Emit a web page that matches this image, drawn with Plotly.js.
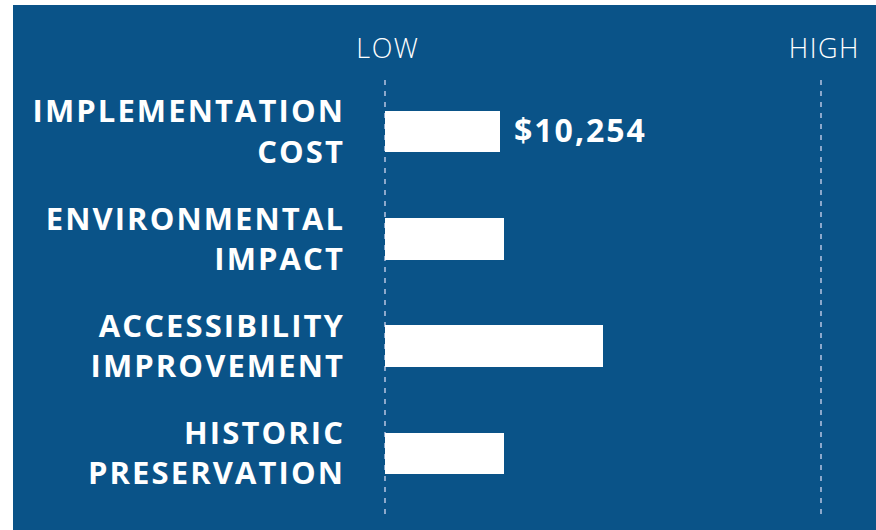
<!DOCTYPE html>
<html>
<head>
<meta charset="utf-8">
<script src="https://cdn.plot.ly/plotly-3.0.1.min.js"></script>
<style>
html, body { margin: 0; padding: 0; background: #ffffff; }
#chart { position: absolute; left: 13px; top: 5px; width: 863px; height: 525px; }
#chart .ytick text { letter-spacing: 2.1px; }
#chart .xtick text { letter-spacing: 1.5px; }
#chart .annotation-text { letter-spacing: 2px; }
</style>
</head>
<body>
<div id="chart"></div>
<script>
var categories = ["IMPLEMENTATION<br>COST", "ENVIRONMENTAL<br>IMPACT", "ACCESSIBILITY<br>IMPROVEMENT", "HISTORIC<br>PRESERVATION"];
var values = [0.264, 0.273, 0.5, 0.273];
var barLabels = ["$10,254", "", "", ""];
var scaleTickValues = [0, 1];
var scaleTickLabels = ["LOW", "HIGH"];

var BLUE = "#0a5388";

var trace = {
  type: "bar",
  orientation: "h",
  x: values,
  y: categories,
  width: 0.39,
  marker: { color: "#ffffff", line: { width: 0 } },
  hoverinfo: "skip"
};

var annotations = [];
for (var i = 0; i < values.length; i++) {
  if (barLabels[i]) {
    annotations.push({
      x: values[i], y: categories[i], xref: "x", yref: "y",
      text: barLabels[i], showarrow: false, xanchor: "left", yanchor: "middle",
      xshift: 19, yshift: 2,
      font: { family: "Open Sans, sans-serif", size: 32, color: "#ffffff", weight: 700 }
    });
  }
}

var layout = {
  width: 863,
  height: 525,
  paper_bgcolor: BLUE,
  plot_bgcolor: BLUE,
  margin: { l: 350.2, r: 11.4, t: 75, b: 10 },
  showlegend: false,
  bargap: 0,
  xaxis: {
    range: [-0.05, 1.1],
    side: "top",
    tickvals: scaleTickValues,
    ticktext: scaleTickLabels,
    ticks: "",
    showgrid: true,
    gridcolor: "#8ca8cb",
    gridwidth: 2,
    griddash: "5px,6px",
    zeroline: false,
    showline: false,
    fixedrange: true,
    ticklabelstandoff: 16,
    ticklabelshift: 3,
    tickfont: { family: "Open Sans, sans-serif", size: 27, color: "#ffffff", weight: 300 }
  },
  yaxis: {
    type: "category",
    categoryorder: "array",
    categoryarray: categories,
    range: [3.62, -0.48],
    ticks: "",
    showgrid: false,
    zeroline: false,
    showline: false,
    fixedrange: true,
    ticklabelstandoff: 17,
    tickfont: { family: "Open Sans, sans-serif", size: 31, color: "#ffffff", weight: 700 }
  },
  annotations: annotations
};

Plotly.newPlot("chart", [trace], layout, { displayModeBar: false, staticPlot: true });
</script>
</body>
</html>
